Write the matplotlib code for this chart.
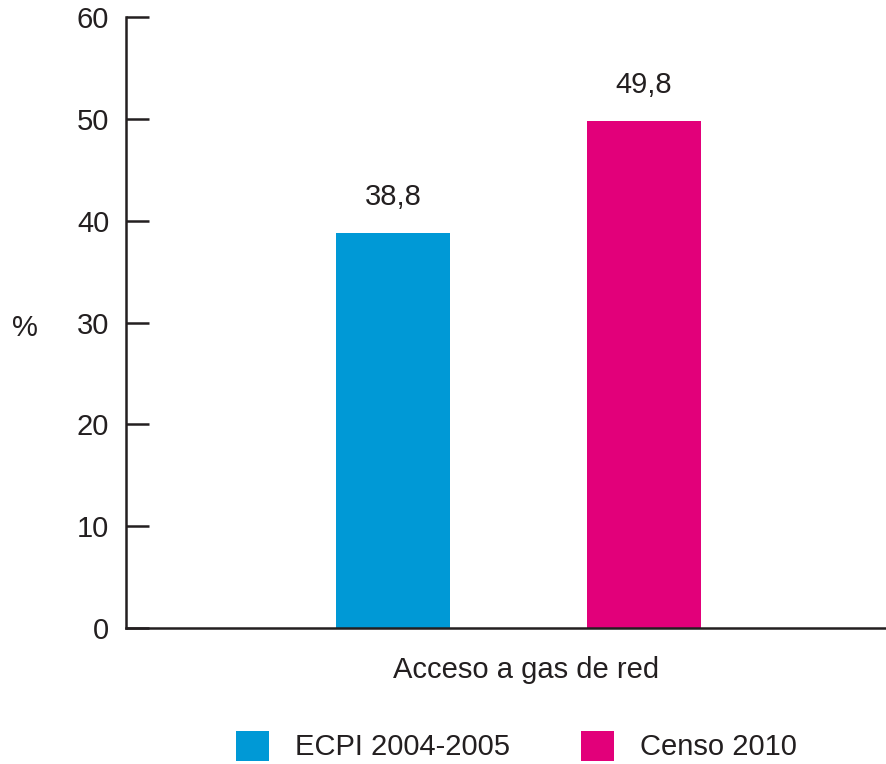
import matplotlib
matplotlib.use("Agg")
import matplotlib.pyplot as plt
from matplotlib.patches import Patch

categories = ["ECPI 2004-2005", "Censo 2010"]
values = [38.8, 49.8]
value_labels = ["38,8", "49,8"]
colors = ["#0099D6", "#E2007A"]
yticks = [0, 10, 20, 30, 40, 50, 60]
xlabel = "Acceso a gas de red"

plt.rcParams['font.family'] = ['Liberation Sans', 'DejaVu Sans']
ink = "#231F20"
fs = 21

fig = plt.figure(figsize=(8.87, 7.64), dpi=100)
ax = fig.add_axes([126/887, 1-628/764, (886-126)/887, (628-17)/764])

pos = list(range(len(values)))
bars = ax.bar(pos, values, width=0.455, color=colors)
for p, v, lab in zip(pos, values, value_labels):
    ax.annotate(lab, (p, v), xytext=(0, 16), textcoords="offset points",
                ha="center", va="bottom", fontsize=fs, color=ink)

ax.set_xlim(-1.064, 1.964)
ax.set_ylim(0, 60)
ax.set_yticks(yticks)
ax.set_yticklabels([str(t) for t in yticks])
ax.set_xticks([])
for s in ["top", "right"]:
    ax.spines[s].set_visible(False)
for s in ["left", "bottom"]:
    ax.spines[s].set_linewidth(1.8)
    ax.spines[s].set_color(ink)
ax.tick_params(axis="y", direction="in", length=16.5, width=1.8, color=ink,
               labelsize=fs, labelcolor=ink, pad=12)

fig.text(25/887, 1-328/764, "%", ha="center", va="center", fontsize=fs, color=ink)
fig.text(526/887, 1-670/764, xlabel, ha="center", va="center", fontsize=fs, color=ink)

handles = [Patch(facecolor=c, edgecolor="none", label=l) for c, l in zip(colors, categories)]
fig.legend(handles=handles, loc="center", bbox_to_anchor=(516.5/887, 1-746/764), ncol=2,
           frameon=False, fontsize=fs, handlelength=1.13, handleheight=1.2,
           handletextpad=0.89, columnspacing=2.43, labelcolor=ink,
           borderpad=0, borderaxespad=0)

fig.savefig("out.png", dpi=100)
